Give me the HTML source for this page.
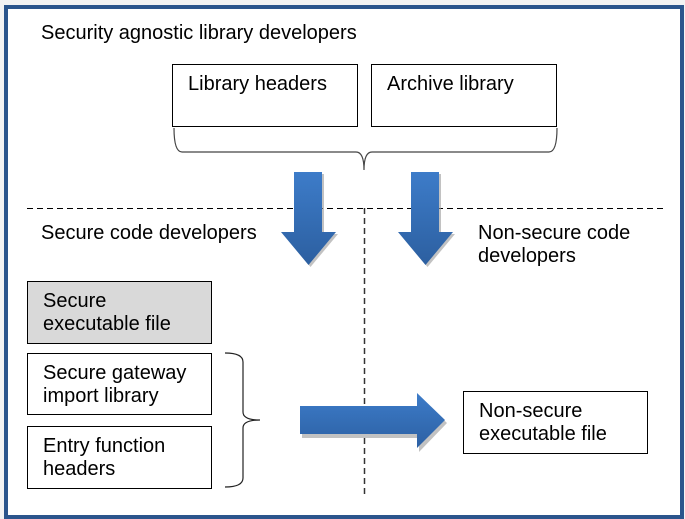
<!DOCTYPE html>
<html><head><style>
body{margin:0;width:685px;height:519px;background:#f3f3f3;position:relative;overflow:hidden;font-family:"Liberation Sans",Arial,sans-serif;font-size:20px;color:#000}
.frame{position:absolute;left:4px;top:5px;width:672px;height:506px;border:4px solid #2b558c;background:#fff}
.t{position:absolute;line-height:23px;white-space:nowrap}
.b{position:absolute;border:1px solid #000;background:#fff;box-sizing:border-box;padding:8px 0 0 15px;line-height:23px;white-space:nowrap}
svg{position:absolute;left:0;top:0}
</style></head><body>
<div class="frame"></div>
<svg width="685" height="519">
<defs>
<linearGradient id="g" x1="0" y1="0" x2="0" y2="1"><stop offset="0" stop-color="#3d7cc9"/><stop offset="1" stop-color="#2c5fa0"/></linearGradient>
<linearGradient id="gh" x1="0" y1="0" x2="0" y2="1"><stop offset="0" stop-color="#3d7cc9"/><stop offset="1" stop-color="#2c60a3"/></linearGradient>
</defs>
<line x1="27" y1="208.5" x2="663" y2="208.5" stroke="#000" stroke-dasharray="6,4"/>
<line x1="364.5" y1="208" x2="364.5" y2="497" stroke="#333" stroke-width="1.5" stroke-dasharray="6,4"/>
<path d="M174 128 Q174 152 182 152 L356 152 Q364 152 364 170 Q364 152 372 152 L549 152 Q557 152 557 128" fill="none" stroke="#444" stroke-width="1.2"/>
<path d="M225 353 Q243 353 243 362 L243 412 Q243 420 260 420 Q243 420 243 428 L243 478 Q243 487 225 487" fill="none" stroke="#222" stroke-width="1.2"/>
<g fill="#999" opacity=".6"><path d="M296 174h28v60h14l-27.5 33-27.5-33h13z"/><path d="M413 174h28v60h14l-27.5 33-27.5-33h13z"/><path d="M302 409h117v-13l28 27-28 29v-14h-117z"/></g>
<path d="M294 172h28v60h14l-27.5 33-27.5-33h13z" fill="url(#g)"/>
<path d="M411 172h28v60h14l-27.5 33-27.5-33h13z" fill="url(#g)"/>
<path d="M300 406h117v-13l28 27-28 28v-14h-117z" fill="url(#gh)"/>
</svg>
<div class="t" style="left:41px;top:22px">Security agnostic library developers</div>
<div class="b" style="left:172px;top:64px;width:186px;height:63px">Library headers</div>
<div class="b" style="left:371px;top:64px;width:186px;height:63px">Archive library</div>
<div class="t" style="left:41px;top:222px">Secure code developers</div>
<div class="t" style="left:478px;top:222px">Non-secure code<br>developers</div>
<div class="b" style="left:27px;top:281px;width:185px;height:63px;background:#d9d9d9">Secure<br>executable file</div>
<div class="b" style="left:27px;top:353px;width:185px;height:62px">Secure gateway<br>import library</div>
<div class="b" style="left:27px;top:426px;width:185px;height:63px">Entry function<br>headers</div>
<div class="b" style="left:463px;top:391px;width:185px;height:63px">Non-secure<br>executable file</div>
</body></html>
